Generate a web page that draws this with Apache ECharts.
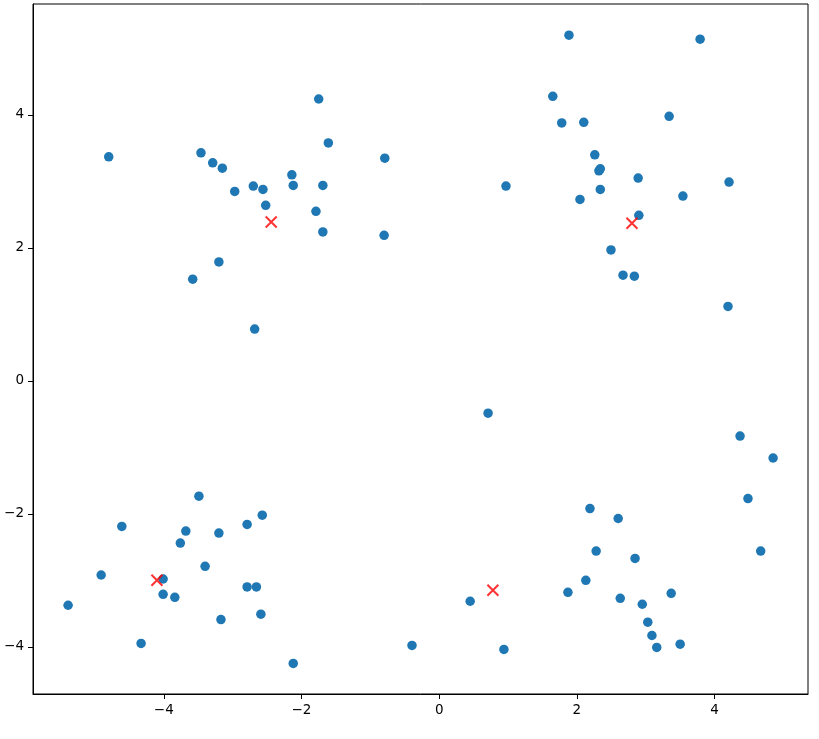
<!DOCTYPE html>
<html>
<head>
<meta charset="utf-8">
<script src="https://cdn.jsdelivr.net/npm/echarts@6/dist/echarts.min.js"></script>
<style>html,body{margin:0;padding:0;background:#fff}#c{width:819px;height:739px}</style>
</head>
<body>
<div id="c"></div>
<script>
const pointsX = [
  -4.80,-3.46,-3.29,-3.15,-2.97,-2.70,-2.56,-2.52,-1.75,-1.61,-0.79,-2.14,-2.12,-1.69,-1.79,-1.69,-0.80,-3.20,-3.58,-2.68,
  1.885,3.79,1.65,1.78,2.10,3.34,2.26,2.34,2.32,0.97,2.89,4.21,2.34,2.045,3.54,2.90,2.495,2.67,2.835,4.195,
  -3.49,-2.57,-4.61,-2.79,-3.68,-3.20,-3.76,-3.40,-4.91,-4.01,-2.79,-2.655,-4.01,-3.84,-5.39,-2.59,-3.17,-4.33,-0.395,-2.12,
  0.71,4.37,4.85,4.485,2.19,2.60,2.28,4.67,2.845,2.13,1.87,3.37,0.45,2.63,2.95,3.03,3.09,3.16,3.50,0.94
];
const pointsY = [
  3.37,3.43,3.28,3.20,2.85,2.93,2.88,2.64,4.24,3.58,3.35,3.10,2.94,2.94,2.55,2.24,2.19,1.79,1.53,0.78,
  5.20,5.14,4.28,3.88,3.89,3.98,3.40,3.19,3.16,2.93,3.05,2.99,2.88,2.73,2.78,2.49,1.97,1.59,1.575,1.12,
  -1.735,-2.02,-2.19,-2.16,-2.26,-2.29,-2.44,-2.79,-2.92,-2.98,-3.10,-3.10,-3.21,-3.255,-3.375,-3.51,-3.59,-3.95,-3.98,-4.25,
  -0.486,-0.83,-1.16,-1.77,-1.92,-2.07,-2.56,-2.56,-2.67,-3.00,-3.18,-3.195,-3.315,-3.27,-3.36,-3.63,-3.83,-4.01,-3.96,-4.04
];
const centersX = [-2.44, 2.80, -4.10, 0.78];
const centersY = [2.39, 2.37, -3.00, -3.15];
const xTicks = [-4, -2, 0, 2, 4];
const yTicks = [-4, -2, 0, 2, 4];

const pts = pointsX.map((x, i) => [x, pointsY[i]]);
const ctr = centersX.map((x, i) => [x, centersY[i]]);
const fmt = v => String(v).replace('-', '\u2212');

const chart = echarts.init(document.getElementById('c'), null, {renderer: 'canvas'});
chart.setOption({
  animation: false,
  backgroundColor: '#fff',
  grid: {left: 33, right: 11, top: 4, bottom: 45, show: true, borderColor: '#000', borderWidth: 1, backgroundColor: 'transparent'},
  xAxis: {
    type: 'value', min: -5.9, max: 5.357,
    axisLine: {show: true, onZero: false, lineStyle: {color: '#000', width: 1}},
    axisTick: {show: true, length: 5, customValues: xTicks, lineStyle: {color: '#000'}},
    axisLabel: {customValues: xTicks, formatter: fmt, color: '#000', fontSize: 13.5, fontFamily: 'DejaVu Sans', margin: 9},
    splitLine: {show: false}
  },
  yAxis: {
    type: 'value', min: -4.71, max: 5.669,
    axisLine: {show: true, onZero: false, lineStyle: {color: '#000', width: 1}},
    axisTick: {show: true, length: 5, customValues: yTicks, lineStyle: {color: '#000'}},
    axisLabel: {customValues: yTicks, formatter: fmt, color: '#000', fontSize: 13.5, fontFamily: 'DejaVu Sans', margin: 9},
    splitLine: {show: false}
  },
  series: [
    {type: 'scatter', data: pts, symbol: 'circle', symbolSize: 9.5, itemStyle: {color: '#1f77b4', opacity: 1}},
    {type: 'scatter', data: ctr, symbol: 'path://M0,0L10,10M10,0L0,10', symbolSize: 11,
     itemStyle: {color: 'rgba(0,0,0,0)', borderColor: '#ff0000', borderWidth: 2}, z: 3}
  ]
});
</script>
</body>
</html>
